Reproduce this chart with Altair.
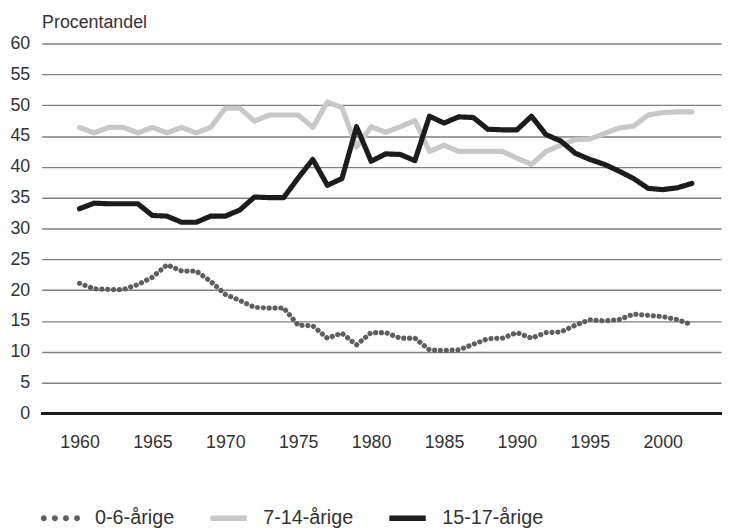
import altair as alt
import pandas as pd

years = list(range(1960, 2003))

series_names = ["0-6-årige", "7-14-årige", "15-17-årige"]

age_0_6 = [21.1, 20.2, 20.1, 20.1, 20.9, 22.1, 24.1, 23.1, 23.1, 21.4,
           19.3, 18.3, 17.2, 17.1, 17.1, 14.3, 14.2, 12.2, 13.0, 11.1,
           13.1, 13.1, 12.2, 12.2, 10.3, 10.2, 10.3, 11.2, 12.1, 12.2,
           13.1, 12.2, 13.1, 13.2, 14.3, 15.2, 15.0, 15.2, 16.1, 15.9,
           15.7, 15.2, 14.4]

age_7_14 = [46.4, 45.5, 46.4, 46.4, 45.5, 46.4, 45.5, 46.4, 45.5, 46.4,
            49.5, 49.5, 47.4, 48.4, 48.4, 48.4, 46.4, 50.5, 49.6, 43.2,
            46.5, 45.6, 46.5, 47.5, 42.5, 43.5, 42.5, 42.5, 42.5, 42.5,
            41.4, 40.4, 42.5, 43.5, 44.4, 44.5, 45.4, 46.3, 46.6, 48.4,
            48.8, 48.9, 48.9]

age_15_17 = [33.2, 34.1, 34.0, 34.0, 34.0, 32.1, 32.0, 31.0, 31.0, 32.0,
             32.0, 33.0, 35.1, 35.0, 35.0, 38.2, 41.2, 37.0, 38.1, 46.5,
             40.9, 42.1, 42.0, 41.0, 48.2, 47.1, 48.1, 48.0, 46.1, 46.0,
             46.0, 48.2, 45.2, 44.2, 42.2, 41.2, 40.4, 39.3, 38.1, 36.5,
             36.3, 36.6, 37.3]

x_ticks = [1960, 1965, 1970, 1975, 1980, 1985, 1990, 1995, 2000]
y_ticks = list(range(0, 61, 5))

rows = []
for name, vals in zip(series_names, [age_0_6, age_7_14, age_15_17]):
    for yr, v in zip(years, vals):
        rows.append({"year": yr, "value": v, "series": name})
df = pd.DataFrame(rows)

FONT = "Liberation Sans"
TXT = "#333333"

colors = ["#5e5e5e", "#c8c8c8", "#1c1c1c"]
dashes = [[0.1, 5.8], [1, 0], [1, 0]]
widths = [5.2, 5.2, 5.2]

color_scale = alt.Scale(domain=series_names, range=colors)


def dot(cx, r=0.15):
    return f"M{cx - r},0a{r},{r} 0 1,0 {2 * r},0a{r},{r} 0 1,0 {-2 * r},0Z"


dots_path = "".join(dot(c) for c in [-0.84, -0.28, 0.28, 0.84])
bar_path = "M-0.92,-0.14H0.92V0.14H-0.92Z"
shape_scale = alt.Scale(domain=series_names, range=[dots_path, bar_path, bar_path])

x_scale = alt.Scale(domain=[1957.4, 2004], nice=False, zero=False)
y_scale = alt.Scale(domain=[0, 60], nice=False)

x_axis = alt.Axis(values=x_ticks, format="d", title=None, grid=False,
                  domain=False, ticks=False, labelPadding=21,
                  labelFontSize=18, labelFont=FONT, labelColor=TXT)
y_axis = alt.Axis(values=y_ticks, title="Procentandel", grid=True,
                  gridColor="#7f7f7f", gridWidth=1.4, labelOverlap=False,
                  domain=False, ticks=False, labelPadding=12,
                  labelFontSize=18, labelFont=FONT, labelColor=TXT,
                  titleAngle=0, titleX=0, titleY=-12,
                  titleAlign="left", titleBaseline="bottom",
                  titleFontSize=18, titleFontWeight="normal",
                  titleFont=FONT, titleColor=TXT)

x_enc = alt.X("year:Q", scale=x_scale, axis=x_axis)
y_enc = alt.Y("value:Q", scale=y_scale, axis=y_axis)

legend_spec = alt.Legend(title=None, orient="none", legendX=-1, legendY=460,
                         direction="horizontal", labelFontSize=20,
                         labelFont=FONT, labelColor=TXT, labelOffset=15,
                         columnPadding=34, symbolOpacity=1, symbolStrokeWidth=0,
                         symbolSize=1600)

zero_rule = alt.Chart(df).mark_rule(color="#1a1a1a", strokeWidth=2.6).encode(
    y=alt.Y(datum=0, scale=y_scale, axis=y_axis)
)


def series_layer(i):
    return alt.Chart(df).transform_filter(
        alt.datum.series == series_names[i]
    ).mark_line(strokeCap="round", strokeJoin="round", color=colors[i],
                strokeDash=dashes[i], strokeWidth=widths[i]).encode(
        x=x_enc,
        y=y_enc,
    )


legend_layer = alt.Chart(df).mark_point(
    filled=True, size=1600, opacity=0
).encode(
    x=x_enc,
    y=y_enc,
    color=alt.Color("series:N", scale=color_scale, legend=legend_spec),
    shape=alt.Shape("series:N", scale=shape_scale, legend=legend_spec),
)

chart = alt.layer(
    zero_rule,
    series_layer(0),
    series_layer(1),
    series_layer(2),
    legend_layer,
).properties(
    width=687,
    height=374,
    autosize="none",
    padding={"left": 34, "top": 33, "right": 4, "bottom": 114},
).configure_view(
    stroke=None
)

chart.save("out.html", embed_options={"renderer": "svg", "actions": False})
